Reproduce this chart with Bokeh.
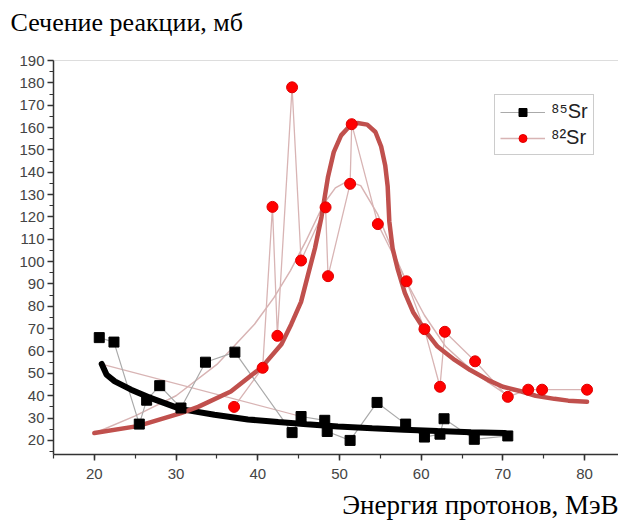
from bokeh.plotting import figure
from bokeh.models import Range1d, Legend, LegendItem, Span, Title, FixedTicker
from bokeh.embed import file_html
from bokeh.resources import INLINE

# 85Sr data
sr85_x = [20.6, 22.4, 25.5, 26.4, 28.0, 30.6, 33.6, 37.2, 44.2, 45.3, 48.2, 48.5,
          51.3, 54.6, 58.1, 60.4, 62.3, 62.8, 66.5, 70.6]
sr85_y = [66.0, 64.0, 27.3, 38.0, 44.5, 34.5, 55.0, 59.5, 23.5, 30.7, 29.0, 24.0,
          20.0, 37.0, 27.3, 21.5, 22.8, 29.7, 20.5, 22.0]
# faint straight segment
seg_x = [21.0, 45.3]
seg_y = [54.0, 30.7]
# 85Sr fit (thick black)
fit85_x = [20.9, 21.5, 22.5, 24.5, 26.6, 28.6, 30.6, 34.7, 38.8, 42.5, 46.0, 49.8, 54.0, 57.9, 62.0, 66.1, 70.2]
fit85_y = [54.2, 49.4, 46.4, 42.7, 39.4, 36.7, 34.0, 31.5, 29.4, 28.2, 27.2, 26.2, 25.4, 24.8, 24.2, 23.7, 23.3]

# 82Sr data
sr82_x = [37.1, 40.6, 41.8, 42.4, 44.2, 45.3, 48.3, 48.6, 51.3, 51.5, 54.7, 58.2,
          60.4, 62.3, 62.9, 66.6, 70.6, 73.1, 74.8, 80.3]
sr82_y = [35.0, 52.5, 124.5, 66.8, 178.0, 100.5, 124.3, 93.5, 134.8, 161.5, 116.8, 91.2,
          69.8, 44.0, 68.6, 55.4, 39.5, 42.7, 42.7, 42.7]
# smooth thin curve for 82Sr
sm82_x = [20.5, 25, 30, 35, 39.6, 42, 44, 46, 48.1, 49.5, 51, 52.6, 54.7, 56.5, 58.2, 60.4, 63, 66.6, 70.6]
sm82_y = [24, 31, 40, 54, 72, 84, 96, 110, 126, 133, 136, 134, 121, 105, 91, 76, 62, 50, 40]
# 82Sr fit (thick red)
fit82_x = [20.0, 25.3, 30.6, 32.7, 36.7, 40.5, 42.9, 44.1, 45.3, 46.1, 47.0, 47.8, 48.6, 49.3, 50.2,
           51.2, 52.2, 53.4, 54.4, 55.1, 55.6, 55.9, 56.1, 56.5, 57.1, 58.0, 59.0, 60.4, 62.0,
           64.1, 66.0, 68.2, 70.0, 72.2, 74.0, 76.3, 78.0, 80.3]
fit82_y = [23.3, 26.4, 32.2, 35.0, 41.9, 52.8, 63.0, 72.0, 82.0, 93.4, 106.0, 120.0, 138.0, 149.0, 156.5,
           160.5, 162.0, 161.3, 158.0, 151.5, 143.0, 133.6, 118.0, 106.0, 97.0, 86.0, 77.5, 69.5, 62.0,
           56.0, 51.5, 47.0, 44.0, 42.0, 40.0, 38.6, 37.8, 37.3]

y_ticks = list(range(20, 191, 10))
x_ticks = list(range(20, 81, 10))
title_text = "Сечение реакции, мб"
xlabel_text = "Энергия протонов, МэВ"

p = figure(width=618, height=520, output_backend="svg", toolbar_location=None, title=None,
           x_range=Range1d(15, 84.15), y_range=Range1d(13.7, 190),
           min_border_left=53, min_border_right=0, min_border_top=60, min_border_bottom=66)
p.outline_line_color = None
p.grid.grid_line_color = None
p.background_fill_color = "white"

# spacer between frame and title, then the title itself (outer)
p.add_layout(Title(text=" ", text_font_size="10px", standoff=9), "above")
p.add_layout(Title(text=title_text, align="left", vertical_align="top", offset=-43, standoff=0,
                   text_font="Liberation Serif", text_font_size="26px", text_font_style="normal",
                   text_color="#000000"), "above")

# spacer below the axis, then the x label
p.add_layout(Title(text=" ", text_font_size="2px", standoff=2), "below")
p.add_layout(Title(text=xlabel_text, align="right", vertical_align="bottom", offset=0, standoff=0,
                   text_font="Liberation Serif", text_font_size="27px", text_font_style="normal",
                   text_color="#000000"), "below")

for ax in (p.xaxis[0], p.yaxis[0]):
    ax.axis_line_color = "#333333"
    ax.axis_line_width = 1.5
    ax.major_tick_line_color = "#333333"
    ax.minor_tick_line_color = "#333333"
    ax.major_tick_line_width = 1.5
    ax.minor_tick_line_width = 1.2
    ax.major_tick_out = 6
    ax.major_tick_in = 0
    ax.minor_tick_out = 4
    ax.minor_tick_in = 0
    ax.major_label_text_font = "Liberation Sans"
    ax.major_label_text_font_size = "15px"
    ax.major_label_text_color = "#444444"

p.yaxis[0].ticker = FixedTicker(ticks=y_ticks, minor_ticks=list(range(15, 191, 5)))
p.xaxis[0].ticker = FixedTicker(ticks=x_ticks, minor_ticks=list(range(15, 86, 5)))
p.yaxis[0].major_label_standoff = 3
p.xaxis[0].major_label_standoff = 8

p.add_layout(Span(location=190, dimension="width", line_color="#bbbbbb", line_width=1.2))

# thin lines
p.line(seg_x, seg_y, line_color="#d8b4b4", line_width=1.2)
p.line(sm82_x, sm82_y, line_color="#d8b4b4", line_width=1.5)
l82 = p.line(sr82_x, sr82_y, line_color="#d8b4b4", line_width=1.3)
l85 = p.line(sr85_x, sr85_y, line_color="#aaaaaa", line_width=1.2)

# thick fits
p.line(fit85_x, fit85_y, line_color="#000000", line_width=6, line_cap="round")
p.line(fit82_x, fit82_y, line_color="#c0504d", line_width=4.5, line_cap="round")

s85 = p.scatter(sr85_x, sr85_y, marker="square", size=10, fill_color="#000000", line_color="#000000")
s82 = p.scatter(sr82_x, sr82_y, marker="circle", size=11, fill_color="#ff0000", line_color="#e00000")

legend = Legend(items=[LegendItem(label="⁸⁵Sr", renderers=[l85, s85]),
                       LegendItem(label="⁸²Sr", renderers=[l82, s82])],
                location=(441, 299), glyph_width=45, glyph_height=20,
                label_text_font="Liberation Sans", label_text_font_size="20px",
                label_text_color="#222222", border_line_color="#999999",
                padding=5, spacing=3, margin=0, label_standoff=6)
p.add_layout(legend, "center")

open("out.html", "w").write(file_html(p, INLINE))
